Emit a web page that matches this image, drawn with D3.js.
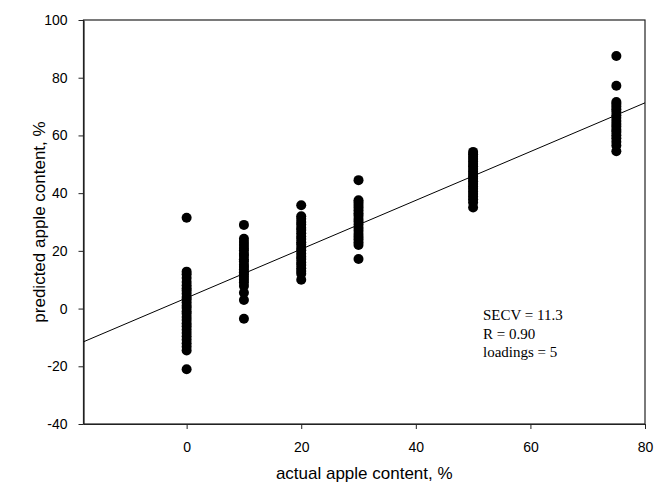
<!DOCTYPE html>
<html>
<head>
<meta charset="utf-8">
<script src="https://cdn.jsdelivr.net/npm/d3@7"></script>
<style>
  html, body { margin: 0; padding: 0; background: #fff; }
  svg { display: block; }
</style>
</head>
<body>
<div id="chart"></div>
<script>
// Actual apple content levels (x) and cross-validated predictions (y) at each level
const actualLevels = [0, 10, 20, 30, 50, 75];

const predicted0 = [31.5, 12.8, 11.9, 10.6, 9.2, 8.1, 7.0, 6.2, 5.1, 4.0, 3.2, 2.1, 1.0, 0.2, -0.9,
  -1.8, -2.9, -4.0, -5.2, -6.1, -7.3, -8.5, -9.6, -10.8, -12.0, -13.2, -14.5, -21.0];
const predicted10 = [29.0, 24.2, 23.1, 22.0, 21.0, 20.1, 19.0, 18.2, 17.1, 16.3, 15.2, 14.4, 13.5,
  12.6, 11.8, 10.9, 10.0, 9.0, 7.8, 5.5, 3.0, -3.5];
const predicted20 = [35.8, 32.0, 31.1, 30.0, 29.1, 28.0, 27.2, 26.1, 25.0, 24.1, 23.0, 22.2, 21.1,
  20.2, 19.1, 18.0, 17.2, 16.0, 15.1, 14.0, 13.0, 12.1, 10.0];
const predicted30 = [44.5, 37.5, 36.8, 35.9, 35.0, 34.1, 33.0, 32.2, 31.0, 30.2, 29.1, 28.0, 27.0,
  25.8, 24.9, 24.0, 23.0, 22.0, 17.2];
const predicted50 = [54.3, 53.5, 52.6, 51.8, 51.0, 50.1, 49.3, 48.4, 47.5, 46.6, 45.8, 45.0, 44.1,
  43.2, 42.3, 41.5, 40.6, 39.7, 38.8, 37.9, 36.8, 35.0];
const predicted75 = [87.5, 77.2, 71.6, 70.9, 70.0, 69.1, 68.2, 67.0, 66.1, 65.0, 64.0, 63.1, 62.0,
  61.2, 60.1, 59.0, 57.8, 56.5, 54.5];

const predictedByLevel = [predicted0, predicted10, predicted20, predicted30, predicted50, predicted75];

// Calibration line: predicted = intercept + slope * actual
const lineIntercept = 3.7;
const lineSlope = 0.845;

const xTicks = [0, 20, 40, 60, 80];
const yTicks = [-40, -20, 0, 20, 40, 60, 80, 100];
const xDomain = [-18, 80];
const yDomain = [-40, 100];

const statsLines = ["SECV = 11.3", "R = 0.90", "loadings = 5"];
const xTitle = "actual apple content, %";
const yTitle = "predicted apple content, %";

const W = 655, H = 489;
const margin = { left: 83.5, right: 10, top: 20, bottom: 65 };

const svg = d3.select("#chart").append("svg")
  .attr("width", W).attr("height", H);

const x = d3.scaleLinear().domain(xDomain).range([margin.left, W - margin.right]);
const y = d3.scaleLinear().domain(yDomain).range([H - margin.bottom, margin.top]);

const points = [];
actualLevels.forEach((lvl, i) => {
  predictedByLevel[i].forEach(v => points.push({ actual: lvl, predicted: v }));
});

// Plot frame (top and right edges; left and bottom come from the axes)
svg.append("rect")
  .attr("x", x(xDomain[0])).attr("y", y(yDomain[1]))
  .attr("width", x(xDomain[1]) - x(xDomain[0]))
  .attr("height", y(yDomain[0]) - y(yDomain[1]))
  .attr("fill", "none").attr("stroke", "#222").attr("stroke-width", 1.2);

// Axes (plain hyphen for negative labels)
const fmt = d => String(d);
const xAxis = svg.append("g")
  .attr("transform", `translate(0,${y(yDomain[0])})`)
  .call(d3.axisBottom(x).tickValues(xTicks).tickFormat(fmt).tickSize(5).tickPadding(13).tickSizeOuter(0));
const yAxis = svg.append("g")
  .attr("transform", `translate(${x(xDomain[0])},0)`)
  .call(d3.axisLeft(y).tickValues(yTicks).tickFormat(fmt).tickSize(5).tickPadding(11).tickSizeOuter(0));

[xAxis, yAxis].forEach(g => {
  g.select(".domain").attr("stroke", "#222").attr("stroke-width", 1.2);
  g.selectAll(".tick line").attr("stroke", "#222");
  g.selectAll(".tick text")
    .attr("fill", "#000")
    .style("font-family", "'Liberation Sans', Arial, sans-serif")
    .style("font-size", "14px");
});

// Calibration line across the whole x range
svg.append("line")
  .attr("x1", x(xDomain[0])).attr("y1", y(lineIntercept + lineSlope * xDomain[0]))
  .attr("x2", x(xDomain[1])).attr("y2", y(lineIntercept + lineSlope * xDomain[1]))
  .attr("stroke", "#000").attr("stroke-width", 1);

// Samples
svg.append("g").selectAll("circle")
  .data(points)
  .join("circle")
  .attr("cx", d => x(d.actual))
  .attr("cy", d => y(d.predicted))
  .attr("r", 5)
  .attr("fill", "#000");

// Axis titles
svg.append("text")
  .attr("x", (x(xDomain[0]) + x(xDomain[1])) / 2)
  .attr("y", 479)
  .attr("text-anchor", "middle")
  .style("font-family", "'Liberation Sans', Arial, sans-serif")
  .style("font-size", "17px")
  .text(xTitle);

svg.append("text")
  .attr("transform", `translate(45,${(y(yDomain[0]) + y(yDomain[1])) / 2}) rotate(-90)`)
  .attr("text-anchor", "middle")
  .style("font-family", "'Liberation Sans', Arial, sans-serif")
  .style("font-size", "17px")
  .text(yTitle);

// Cross-validation statistics
svg.append("g")
  .selectAll("text")
  .data(statsLines)
  .join("text")
  .attr("x", 483)
  .attr("y", (d, i) => 320 + i * 18.5)
  .style("font-family", "'Liberation Serif', 'Times New Roman', serif")
  .style("font-size", "15px")
  .text(d => d);
</script>
</body>
</html>
